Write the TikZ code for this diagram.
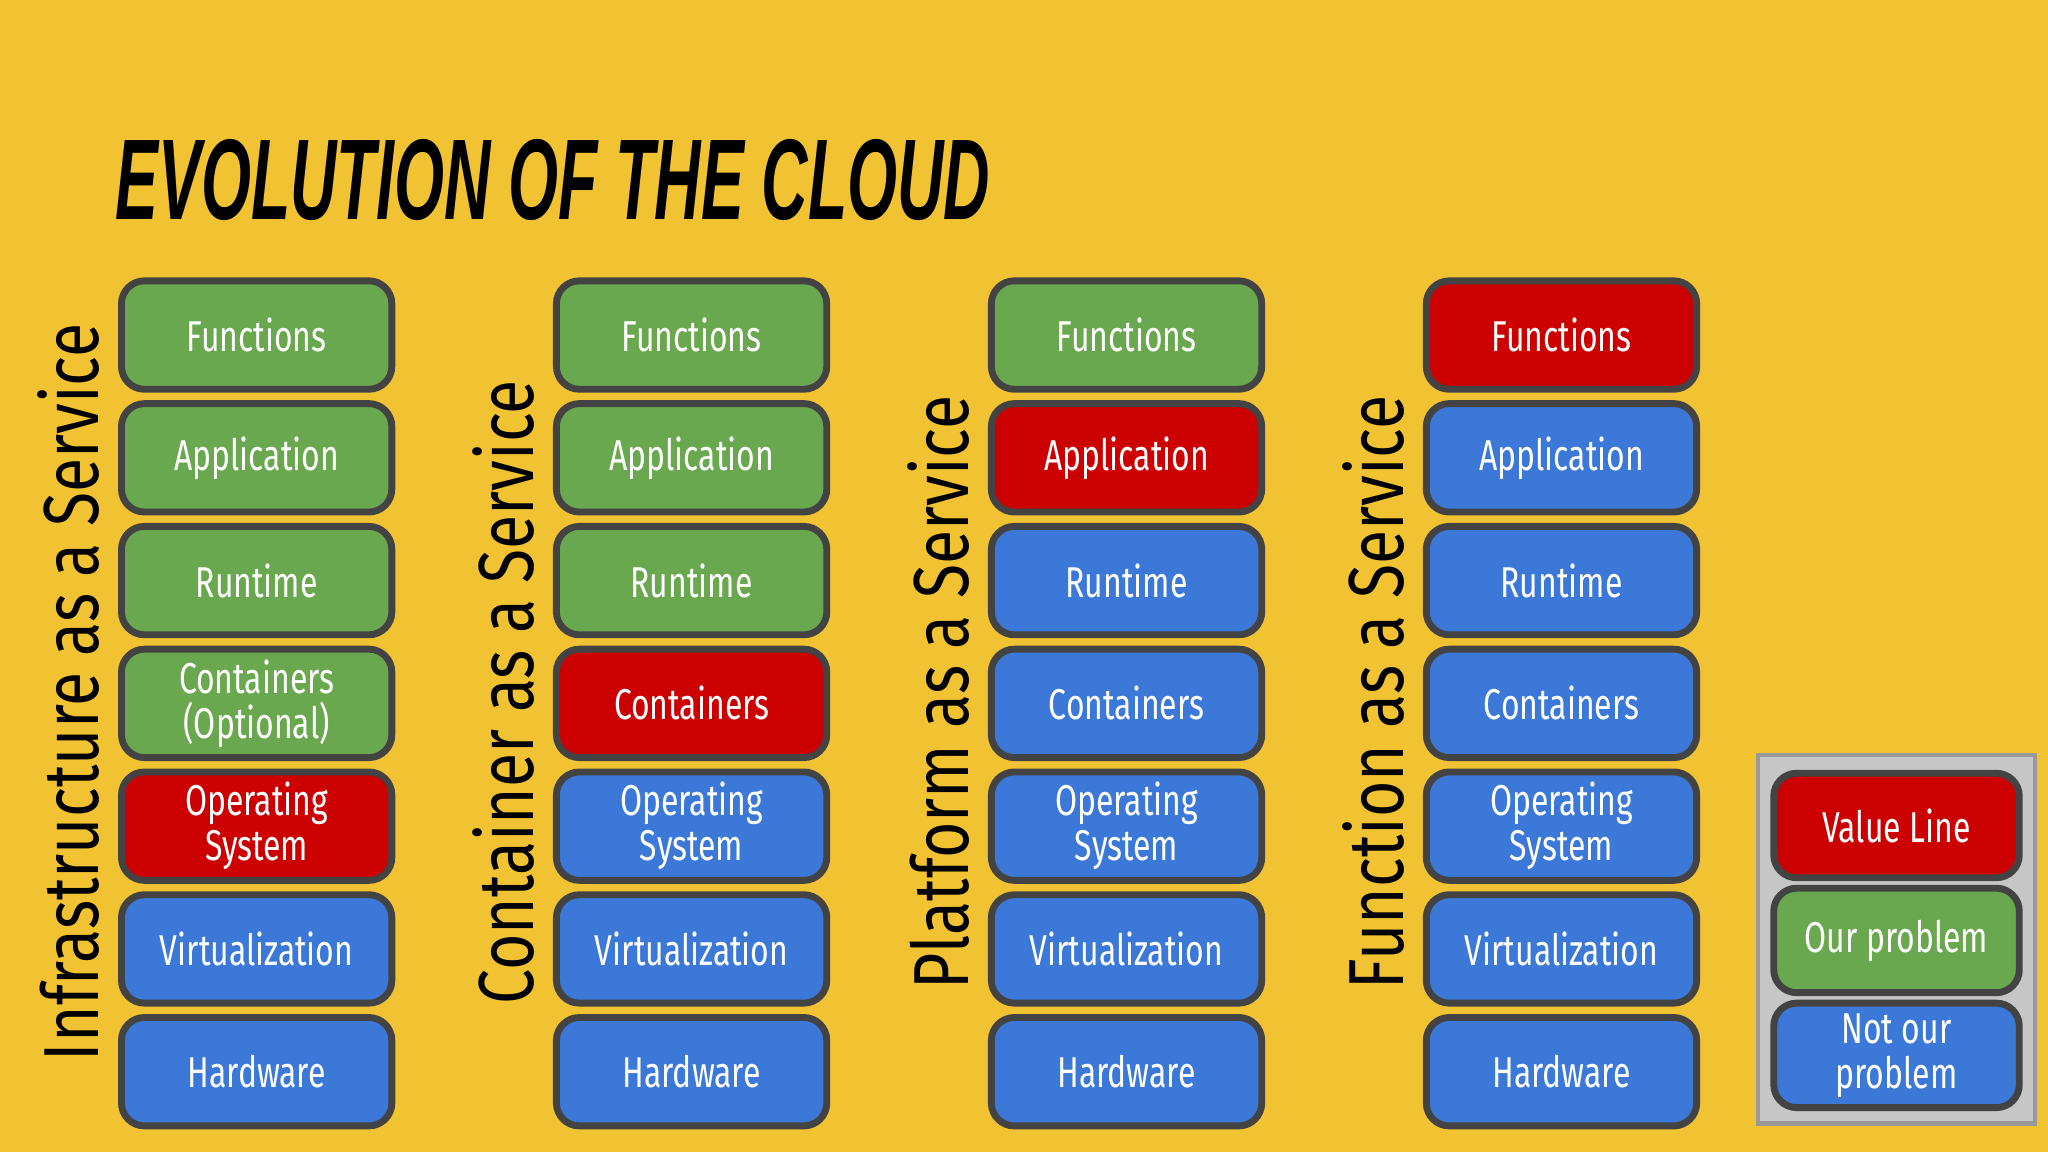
\documentclass[tikz,border=0pt]{standalone}
\usepackage{fontspec}
\setmainfont[FakeStretch=0.74]{Fira Sans}
\newfontfamily\titlefont[FakeStretch=0.56]{Liberation Sans}
\newfontfamily\sidefont[FakeStretch=0.8]{Fira Sans}
\definecolor{bg}{HTML}{F1C232}
\definecolor{gr}{HTML}{6AA84F}
\definecolor{rd}{HTML}{CC0000}
\definecolor{bl}{HTML}{3C78D8}
\definecolor{bd}{HTML}{434343}
\tikzset{
 layer/.style={draw=bd,line width=1.5pt,rounded corners=5pt,minimum width=2.07cm,minimum height=0.83cm,text=white,font=\fontsize{9.4}{9.8}\selectfont,align=center,inner sep=1pt},
 side/.style={rotate=90,font=\sidefont\fontsize{17}{18}\selectfont,text=black}
}
\begin{document}
\begin{tikzpicture}[y=-1cm]
\useasboundingbox (0,0) rectangle (15.68,8.82);
\fill[bg] (0,0) rectangle (15.68,8.82);
\node[anchor=west,font=\titlefont\bfseries\itshape\fontsize{25}{26}\selectfont] (title) at (0.76,1.38) {EVOLUTION OF THE CLOUD};
\foreach \c/\x/\lab/\cols in {1/1.965/Infrastructure as a Service/{gr,gr,gr,gr,rd,bl,bl},
 2/5.295/Container as a Service/{gr,gr,gr,rd,bl,bl,bl},
 3/8.625/Platform as a Service/{gr,rd,bl,bl,bl,bl,bl},
 4/11.955/Function as a Service/{rd,bl,bl,bl,bl,bl,bl}}{
 \node[side] (lab\c) at (\x-1.44,5.3) {\lab};
 \foreach \r/\t [count=\i] in {0/Functions,1/Application,2/Runtime,3/{\ifnum\c=1 Containers\\(Optional)\else Containers\fi},4/{Operating\\System},5/Virtualization,6/Hardware}{
  \pgfmathsetmacro{\yy}{2.565+0.94*\r}
  \foreach \cc [count=\k] in \cols {\ifnum\k=\i \xdef\thecol{\cc}\fi}
  \node[layer,fill=\thecol] (b\c-\i) at (\x,\yy) {\t};
 }
}
\node[draw=gray!80,fill=gray!45,line width=1pt,minimum width=2.12cm,minimum height=2.82cm] (legend) at (14.52,7.19) {};
\node[layer,fill=rd,minimum width=1.88cm,minimum height=0.8cm] (l1) at (14.52,6.32) {Value Line};
\node[layer,fill=gr,minimum width=1.88cm,minimum height=0.8cm] (l2) at (14.52,7.2) {Our problem};
\node[layer,fill=bl,minimum width=1.88cm,minimum height=0.8cm] (l3) at (14.52,8.08) {Not our\\problem};
\end{tikzpicture}
\end{document}
